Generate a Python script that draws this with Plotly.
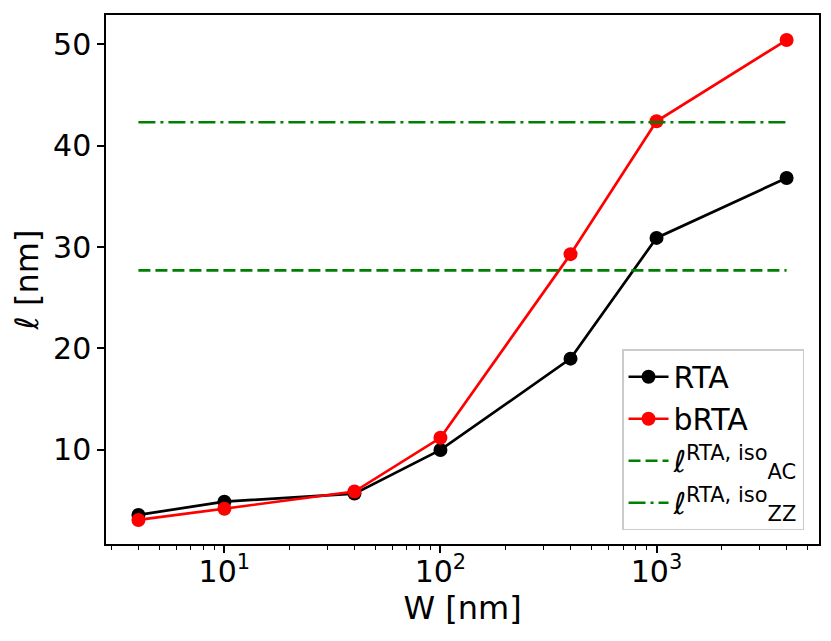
import plotly.graph_objects as go

# data
W = [4, 10, 40, 100, 400, 1000, 4000]
rta = [3.6, 4.9, 5.7, 10.0, 19.0, 30.9, 36.8]
brta = [3.1, 4.2, 5.9, 11.2, 29.3, 42.4, 50.4]
ac_iso = 27.7
zz_iso = 42.3

xtick_vals = [10, 100, 1000]
xtick_text = ["10<sup>1</sup>", "10<sup>2</sup>", "10<sup>3</sup>"]
ytick_vals = [10, 20, 30, 40, 50]

minor_x = [m * 10 ** e for e in range(0, 4) for m in range(2, 10)]

fnt = "DejaVu Sans, Arial, sans-serif"

fig = go.Figure()
fig.add_trace(go.Scatter(x=W, y=rta, name="RTA", mode="lines+markers",
                         line=dict(color="black", width=2.7),
                         marker=dict(color="black", size=14)))
fig.add_trace(go.Scatter(x=W, y=brta, name="bRTA", mode="lines+markers",
                         line=dict(color="red", width=2.7),
                         marker=dict(color="red", size=14)))
fig.add_trace(go.Scatter(x=[W[0], W[-1]], y=[ac_iso, ac_iso], mode="lines",
                         name="ℓ<sup>RTA, iso</sup><sub>AC</sub>",
                         line=dict(color="green", width=2.7, dash="12px,5px")))
fig.add_trace(go.Scatter(x=[W[0], W[-1]], y=[zz_iso, zz_iso], mode="lines",
                         name="ℓ<sup>RTA, iso</sup><sub>ZZ</sub>",
                         line=dict(color="green", width=2.7, dash="17px,5px,3px,5px")))

fig.update_layout(
    width=831, height=641,
    margin=dict(l=98, r=20, t=5, b=105),
    plot_bgcolor="white", paper_bgcolor="white",
    font=dict(family=fnt, size=30, color="black"),
    legend=dict(x=0.979, y=0.026, xanchor="right", yanchor="bottom",
                bordercolor="#cccccc", borderwidth=1.5, bgcolor="white",
                font=dict(size=30), tracegroupgap=0, itemwidth=40),
    showlegend=True,
)
fig.update_xaxes(type="log", range=[0.452, 3.752],
                 tickvals=xtick_vals, ticktext=xtick_text,
                 ticks="outside", ticklen=7, tickwidth=1.5, tickcolor="black",
                 ticklabelstandoff=-7,
                 minor=dict(tickvals=minor_x, ticks="outside", ticklen=4,
                            tickwidth=1, tickcolor="black"),
                 showline=True, linecolor="black", linewidth=1.5, mirror=True,
                 showgrid=False, zeroline=False,
                 title=dict(text="W [nm]", font=dict(size=32), standoff=0))
fig.update_yaxes(range=[0.73, 52.87], tickvals=ytick_vals,
                 ticks="outside", ticklen=7, tickwidth=1.5, tickcolor="black",
                 showline=True, linecolor="black", linewidth=1.5, mirror=True,
                 showgrid=False, zeroline=False,
                 title=dict(text="ℓ [nm]", font=dict(size=32), standoff=6))

fig.write_html("out.html")
